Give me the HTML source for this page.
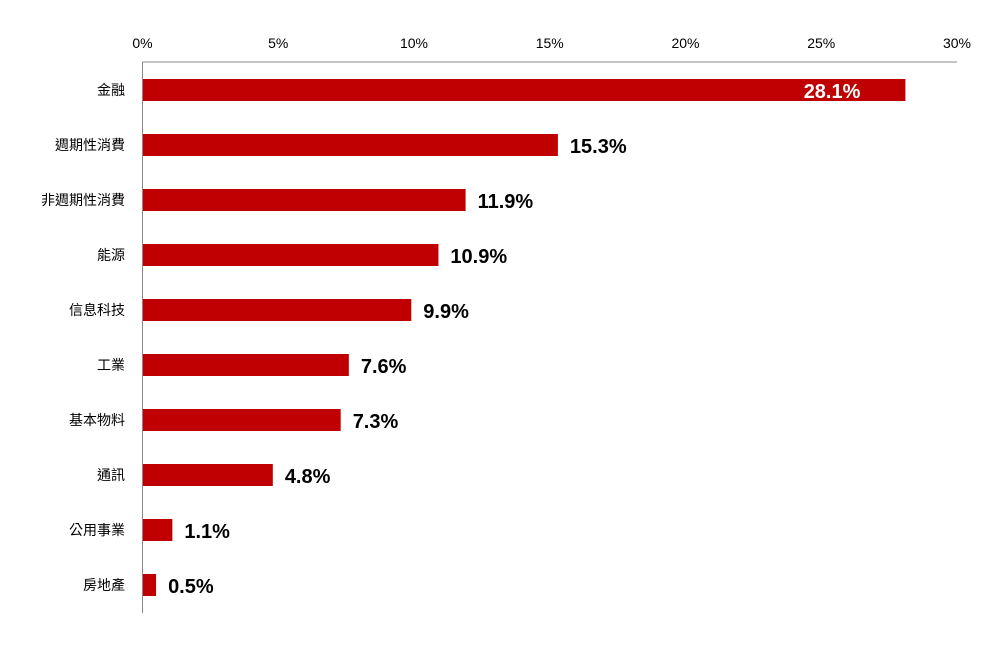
<!DOCTYPE html>
<html><head><meta charset="utf-8"><style>
body{margin:0;background:#fff;}
svg text{font-family:"Liberation Sans","Noto Sans CJK TC",sans-serif;}
</style></head><body>
<svg width="1000" height="650">
<g id="ticks"></g><g id="bars"></g>
<line x1="142.5" y1="62" x2="957" y2="62" stroke="#888" stroke-width="1"/>
<line x1="142.5" y1="62" x2="142.5" y2="613" stroke="#888" stroke-width="1"/>
</svg>
<script>
const categories=["金融","週期性消費","非週期性消費","能源","信息科技","工業","基本物料","通訊","公用事業","房地產"];
const values=[28.1,15.3,11.9,10.9,9.9,7.6,7.3,4.8,1.1,0.5];
const tickValues=[0,5,10,15,20,25,30];
const x=v=>142.5+v*(957-142.5)/30;
const y=i=>90+i*55;
const NS="http://www.w3.org/2000/svg";
const svg=document.querySelector('svg');
const tg=document.getElementById('ticks'),bg=document.getElementById('bars');
function mk(tag,attrs,txt){const e=document.createElementNS(NS,tag);for(const k in attrs)e.setAttribute(k,attrs[k]);if(txt!=null)e.textContent=txt;return e;}
tickValues.forEach(t=>{
 const e=mk('text',{x:x(t),y:48,'text-anchor':'middle','font-size':14,fill:'#000'},t+'%');
 
 
 tg.appendChild(e);
});
categories.forEach((c,i)=>{
 const l=mk('text',{x:125,y:y(i)+5,'text-anchor':'end','font-size':14,fill:'#000'},c);
 
 
 bg.appendChild(l);
 const r=mk('rect',{x:x(0),y:y(i)-11,width:x(values[i])-x(0),height:22,fill:'#c00000'});
 
 
 bg.appendChild(r);
 const inside=values[i]>20;
 const v=mk('text',{x:inside?x(values[i])-45:x(values[i])+12,y:y(i)+8,'text-anchor':inside?'end':'start','font-size':20,'font-weight':'bold',fill:inside?'#fff':'#000'},values[i].toFixed(1)+'%');
 
 
 bg.appendChild(v);
});
</script>
</body></html>
